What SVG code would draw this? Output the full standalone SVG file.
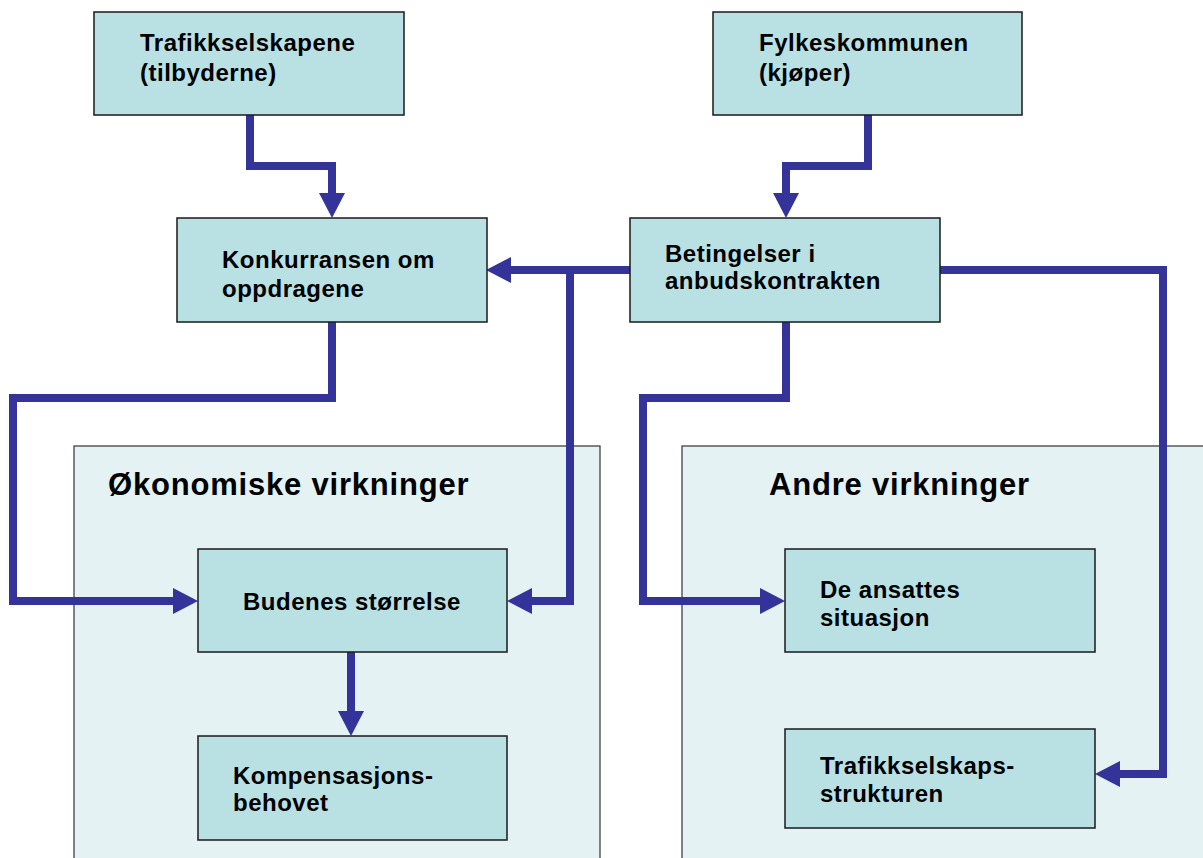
<svg xmlns="http://www.w3.org/2000/svg" width="1203" height="858" viewBox="0 0 1203 858">
<style>
.box{fill:#B9E0E3;stroke:#1a1a1a;stroke-width:1.5}
.grp{fill:#E4F2F4;stroke:#333;stroke-width:1.2}
.t{font-family:"Liberation Sans",Arial,sans-serif;font-weight:bold;font-size:24px;letter-spacing:0.5px;fill:#000}
.h{font-family:"Liberation Sans",Arial,sans-serif;font-weight:bold;font-size:31px;letter-spacing:0.8px;fill:#000}
.c{fill:none;stroke:#333399;stroke-width:8;marker-end:url(#ah)}
</style>
<defs>
<marker id="ah" markerUnits="userSpaceOnUse" markerWidth="26" markerHeight="26" refX="0" refY="13" orient="auto" overflow="visible">
<path d="M0,0 L25,13 L0,26 z" fill="#333399"/>
</marker>
</defs>
<rect width="1203" height="858" fill="#fff"/>
<g id="grp-okonomiske">
<rect class="grp" x="74" y="446" width="526" height="420"/>
<text class="h" x="108" y="495">Økonomiske virkninger</text>
</g>
<g id="grp-andre">
<rect class="grp" x="682" y="446" width="530" height="420"/>
<text class="h" x="769" y="495">Andre virkninger</text>
</g>
<g id="connectors">
<path class="c" d="M250,115 V166 H332 V193"/>
<path class="c" d="M868,115 V166 H786 V193"/>
<path class="c" d="M630,270 H511"/>
<path class="c" d="M570,270 V601 H532"/>
<path class="c" d="M332,322 V398 H13 V601 H173"/>
<path class="c" d="M786,322 V398 H643 V601 H760"/>
<path class="c" d="M940,270 H1163 V774 H1120"/>
<path class="c" d="M351,652 V711"/>
</g>
<g id="n-trafikkselskapene">
<rect class="box" x="94" y="12" width="310" height="103"/>
<text class="t" x="140" y="51">Trafikkselskapene</text>
<text class="t" x="140" y="81">(tilbyderne)</text>
</g>
<g id="n-fylkeskommunen">
<rect class="box" x="713" y="12" width="309" height="103"/>
<text class="t" x="759" y="51">Fylkeskommunen</text>
<text class="t" x="759" y="81">(kjøper)</text>
</g>
<g id="n-konkurransen">
<rect class="box" x="177" y="218" width="310" height="104"/>
<text class="t" x="222" y="268">Konkurransen om</text>
<text class="t" x="222" y="297">oppdragene</text>
</g>
<g id="n-betingelser">
<rect class="box" x="630" y="218" width="310" height="104"/>
<text class="t" x="665" y="262">Betingelser i</text>
<text class="t" x="665" y="289">anbudskontrakten</text>
</g>
<g id="n-budenes">
<rect class="box" x="198" y="549" width="309" height="103"/>
<text class="t" x="243" y="610">Budenes størrelse</text>
</g>
<g id="n-kompensasjon">
<rect class="box" x="198" y="736" width="309" height="104"/>
<text class="t" x="233" y="784">Kompensasjons-</text>
<text class="t" x="233" y="811">behovet</text>
</g>
<g id="n-ansattes">
<rect class="box" x="785" y="549" width="310" height="103"/>
<text class="t" x="820" y="598">De ansattes</text>
<text class="t" x="820" y="626">situasjon</text>
</g>
<g id="n-struktur">
<rect class="box" x="785" y="729" width="310" height="99"/>
<text class="t" x="820" y="774">Trafikkselskaps-</text>
<text class="t" x="820" y="802">strukturen</text>
</g>
</svg>
